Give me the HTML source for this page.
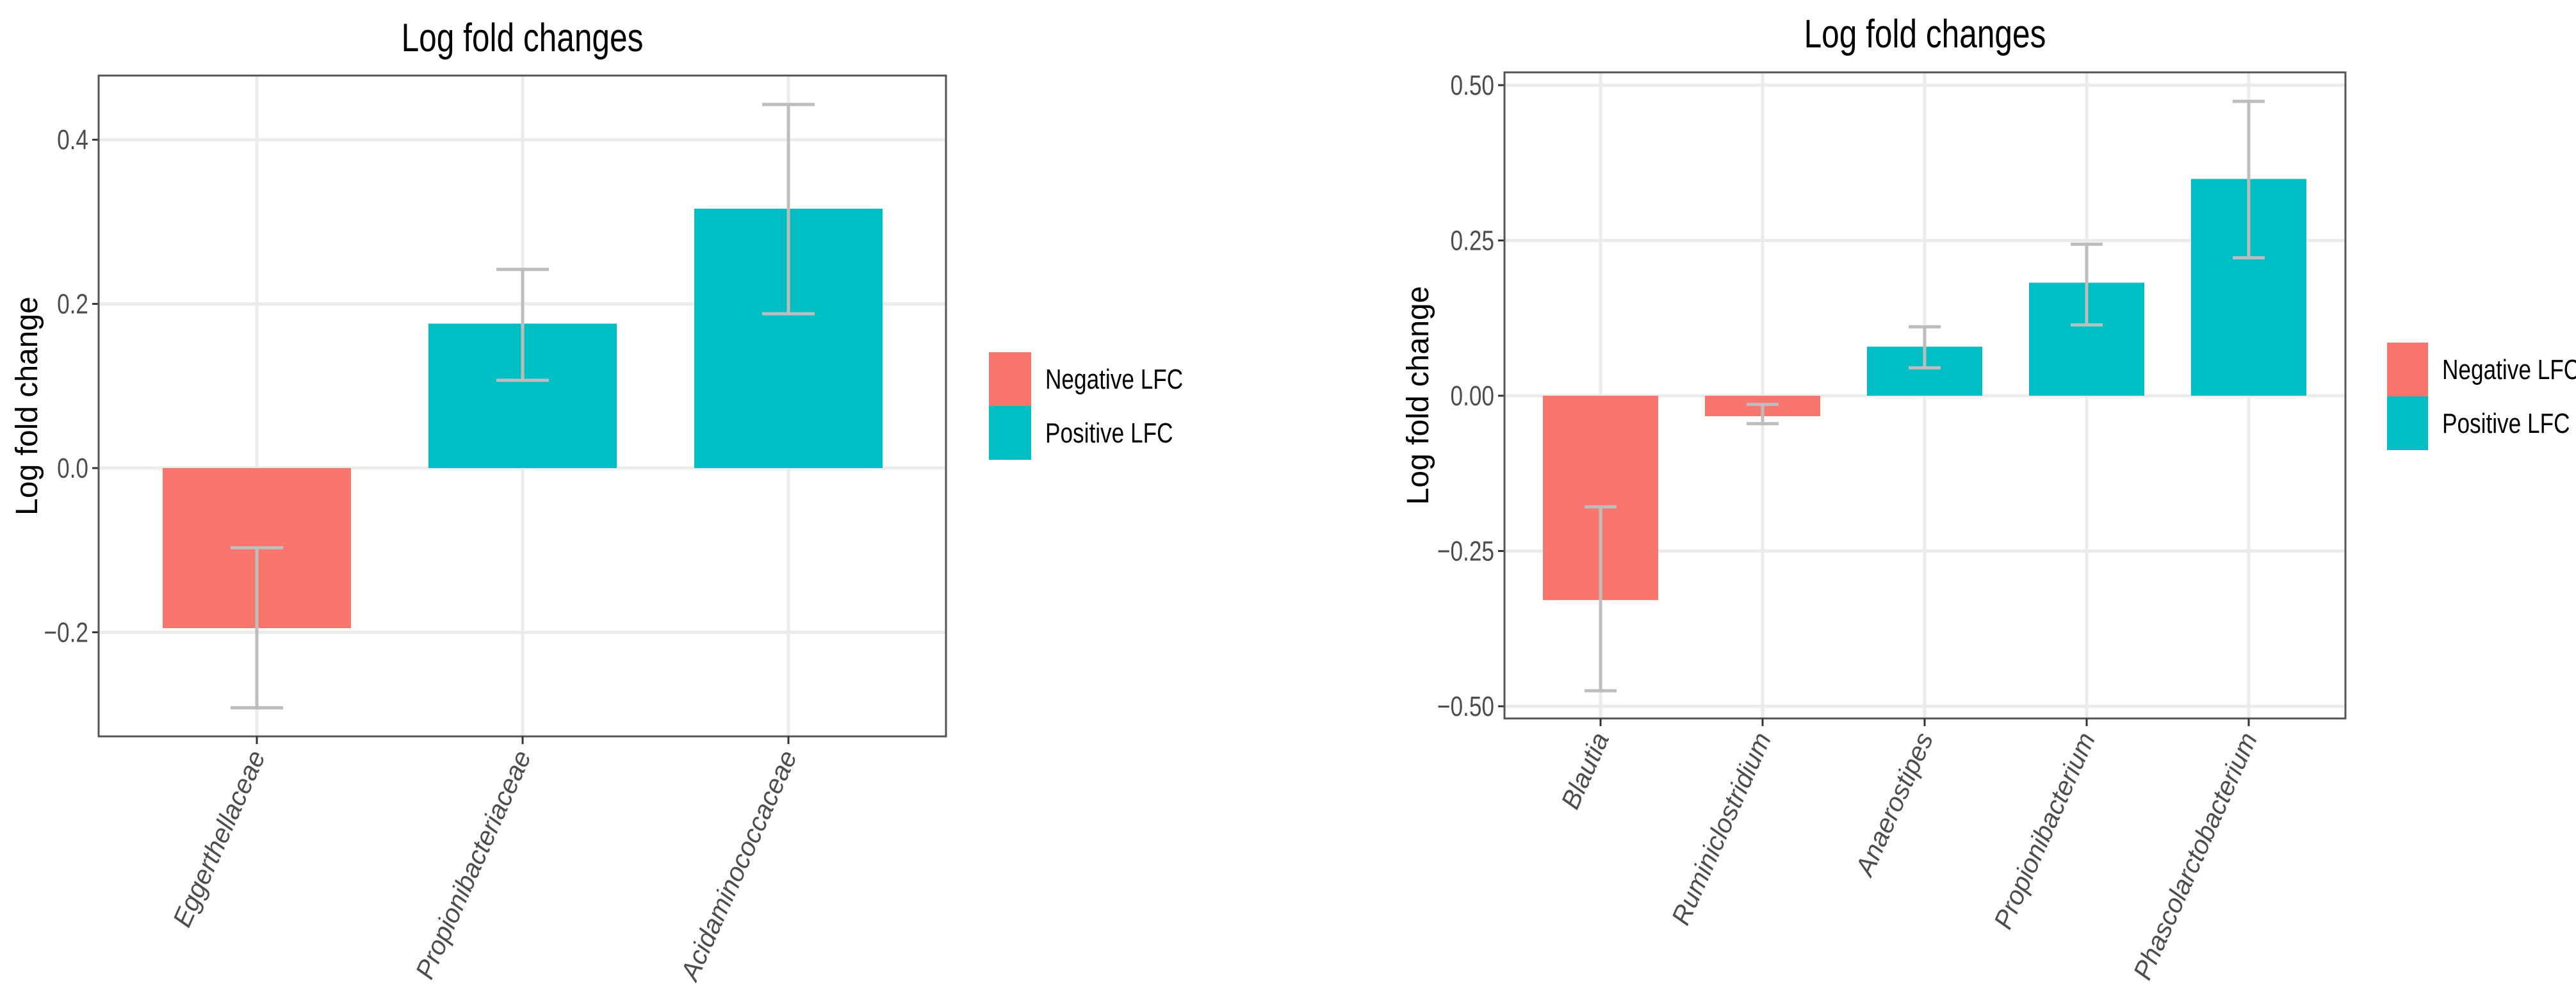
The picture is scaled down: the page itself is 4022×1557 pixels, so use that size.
<!DOCTYPE html>
<html><head><meta charset="utf-8">
<style>
html,body{margin:0;padding:0;background:#fff;}
svg{display:block;}
.title{font-family:"Liberation Sans Narrow","Liberation Sans",sans-serif;font-size:62px;fill:#000;}
.tick{font-family:"Liberation Sans Narrow","Liberation Sans",sans-serif;font-size:44px;fill:#4d4d4d;}
.ytitle{font-family:"Liberation Sans",sans-serif;font-size:48px;fill:#000;}
.xlab{font-family:"Liberation Sans",sans-serif;font-style:italic;font-size:41px;fill:#4d4d4d;}
.leg{font-family:"Liberation Sans Narrow","Liberation Sans",sans-serif;font-size:44px;fill:#000;}
</style></head>
<body>
<svg id="chart" width="4022" height="1557" viewBox="0 0 4022 1557" xmlns="http://www.w3.org/2000/svg">
<rect width="4022" height="1557" fill="#fff"/>
</svg>
<script>
// Left chart data
const leftCategories = ["Eggerthellaceae","Propionibacteriaceae","Acidaminococcaceae"];
const leftValues = [-0.195, 0.176, 0.316];
const leftErrLow = [-0.292, 0.107, 0.188];
const leftErrHigh = [-0.097, 0.242, 0.443];
const leftTicks = [-0.2, 0.0, 0.2, 0.4];
const leftTickLabels = ["\u22120.2","0.0","0.2","0.4"];
// Right chart data
const rightCategories = ["Blautia","Ruminiclostridium","Anaerostipes","Propionibacterium","Phascolarctobacterium"];
const rightValues = [-0.329, -0.033, 0.079, 0.182, 0.349];
const rightErrLow = [-0.475, -0.045, 0.045, 0.114, 0.222];
const rightErrHigh = [-0.179, -0.014, 0.111, 0.244, 0.474];
const rightTicks = [-0.5, -0.25, 0, 0.25, 0.5];
const rightTickLabels = ["\u22120.50","\u22120.25","0.00","0.25","0.50"];
const legendLabels = ["Negative LFC","Positive LFC"];

const NS = "http://www.w3.org/2000/svg";
const svg = document.getElementById("chart");
function mk(tag, attrs, parent){
  const e = document.createElementNS(NS, tag);
  for (const k in attrs) e.setAttribute(k, attrs[k]);
  (parent||svg).appendChild(e);
  return e;
}
function narrow(el){
  const w = el.getComputedTextLength();
  if (w > 0) {
    el.setAttribute("textLength", (w * 0.8).toFixed(1));
    el.setAttribute("lengthAdjust", "spacingAndGlyphs");
  }
}

function drawPanel(cfg){
  const g = mk("g", {});
  
  
  const y = v => cfg.zeroY - v * cfg.pxPerUnit;
  const x = i => cfg.firstX + i * cfg.step;
  cfg.ticks.forEach((t, i) => {
    const l = mk("line", {x1:cfg.left, x2:cfg.right, y1:y(t), y2:y(t), stroke:"#ebebeb", "stroke-width":5}, g);
    
    
    const tm = mk("line", {x1:cfg.left-10, x2:cfg.left, y1:y(t), y2:y(t), stroke:"#333", "stroke-width":3}, g);
    
    
    const tx = mk("text", {x:cfg.left-16, y:y(t)+15, "text-anchor":"end", class:"tick"}, g);
    tx.textContent = cfg.tickLabels[i];
    
    
    narrow(tx);
  });
  cfg.cats.forEach((c, i) => {
    const l = mk("line", {x1:x(i), x2:x(i), y1:cfg.top, y2:cfg.bottom, stroke:"#ebebeb", "stroke-width":5}, g);
    
    
  });
  cfg.cats.forEach((c, i) => {
    const v = cfg.vals[i];
    const y0 = Math.min(y(0), y(v)), h = Math.abs(y(v) - y(0));
    const b = mk("rect", {x:x(i)-cfg.barW/2, y:y0, width:cfg.barW, height:h, fill: v<0 ? "#F8766D" : "#00BFC4"}, g);
    
    
  });
  cfg.cats.forEach((c, i) => {
    const eg = mk("g", {stroke:"#bdbdbd", "stroke-width":5}, g);
    
    
    mk("line", {x1:x(i), x2:x(i), y1:y(cfg.lo[i]), y2:y(cfg.hi[i])}, eg);
    mk("line", {x1:x(i)-cfg.capW/2, x2:x(i)+cfg.capW/2, y1:y(cfg.lo[i]), y2:y(cfg.lo[i])}, eg);
    mk("line", {x1:x(i)-cfg.capW/2, x2:x(i)+cfg.capW/2, y1:y(cfg.hi[i]), y2:y(cfg.hi[i])}, eg);
  });
  const br = mk("rect", {x:cfg.left, y:cfg.top, width:cfg.right-cfg.left, height:cfg.bottom-cfg.top, fill:"none", stroke:"#555", "stroke-width":3}, g);
  
  
  cfg.cats.forEach((c, i) => {
    const tm = mk("line", {x1:x(i), x2:x(i), y1:cfg.bottom, y2:cfg.bottom+12, stroke:"#333", "stroke-width":3}, g);
    
    
    const tx = mk("text", {class:"xlab", "text-anchor":"end", transform:`translate(${x(i)+14},${cfg.bottom+30}) rotate(-66)`}, g);
    tx.textContent = c;
    
    
  });
  const t = mk("text", {x:(cfg.left+cfg.right)/2, y:cfg.titleY, "text-anchor":"middle", class:"title"}, g);
  t.textContent = "Log fold changes";
  
  
  narrow(t);
  const yt = mk("text", {class:"ytitle", "text-anchor":"middle", transform:`translate(${cfg.yTitleX},${(cfg.top+cfg.bottom)/2}) rotate(-90)`}, g);
  yt.textContent = "Log fold change";
  
  
  const lg = mk("g", {}, g);
  
  
  const cols = ["#F8766D","#00BFC4"];
  legendLabels.forEach((lab, i) => {
    const r = mk("rect", {x:cfg.legX, y:cfg.legY + i*cfg.legH, width:cfg.legW, height:cfg.legH, fill:cols[i]}, lg);
    
    
    const lt = mk("text", {x:cfg.legX+cfg.legW+22, y:cfg.legY + i*cfg.legH + cfg.legH/2 + 15, class:"leg"}, lg);
    lt.textContent = lab;
    
    
    narrow(lt);
  });
}

drawPanel({name:"left-chart", cats:leftCategories, vals:leftValues, lo:leftErrLow, hi:leftErrHigh,
  ticks:leftTicks, tickLabels:leftTickLabels,
  left:154, right:1477, top:118, bottom:1150, zeroY:731, pxPerUnit:1282,
  firstX:401, step:415, barW:294, capW:82, titleY:80, yTitleX:58,
  legX:1544, legY:550, legW:66, legH:84});

drawPanel({name:"right-chart", cats:rightCategories, vals:rightValues, lo:rightErrLow, hi:rightErrHigh,
  ticks:rightTicks, tickLabels:rightTickLabels,
  left:2349, right:3662, top:113, bottom:1122, zeroY:618, pxPerUnit:970,
  firstX:2499, step:253, barW:180, capW:50, titleY:74, yTitleX:2230,
  legX:3727, legY:535, legW:64, legH:84});
</script>
</body></html>
